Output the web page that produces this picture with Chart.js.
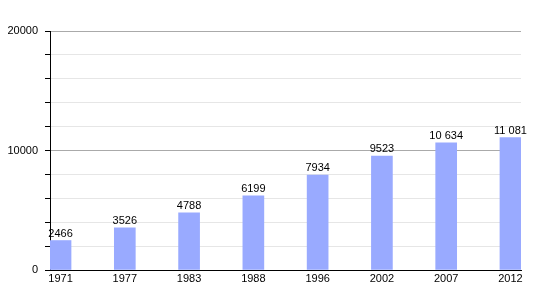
<!DOCTYPE html>
<html><head><meta charset="utf-8">
<script src="https://cdn.jsdelivr.net/npm/chart.js@4/dist/chart.umd.min.js"></script>
<style>html,body{margin:0;padding:0;background:#fff}#wrap{width:550px;height:300px;position:relative}</style>
</head><body><div id="wrap"><canvas id="c" width="550" height="300"></canvas></div>
<script>
const years = ["1971","1977","1983","1988","1996","2002","2007","2012"];
const population = [2466, 3526, 4788, 6199, 7934, 9523, 10634, 11081];
const yTickLabels = [0, 10000, 20000];

function fmt(n){ return n >= 10000 ? String(n).replace(/\B(?=(\d{3})+(?!\d))/g, ' ') : String(n); }

const valueLabels = {
  id: 'valueLabels',
  afterDatasetsDraw(chart){
    const ctx = chart.ctx;
    const meta = chart.getDatasetMeta(0);
    ctx.save();
    ctx.font = '11px "Liberation Sans", Arial, sans-serif';
    ctx.fillStyle = '#000';
    ctx.textAlign = 'center';
    ctx.textBaseline = 'alphabetic';
    meta.data.forEach((bar, i) => {
      ctx.fillText(fmt(population[i]), bar.x, bar.y - 4);
    });
    ctx.restore();
  }
};

new Chart(document.getElementById('c'), {
  type: 'bar',
  data: {
    datasets: [{
      data: population.map((v, i) => ({x: i, y: v})),
      backgroundColor: 'rgb(153,170,255)',
      borderWidth: 0,
      barThickness: 21
    }]
  },
  options: {
    responsive: false,
    animation: false,
    events: [],
    layout: { padding: { top: 31, right: 29, left: 0, bottom: 0 } },
    plugins: { legend: { display: false }, tooltip: { enabled: false } },
    scales: {
      x: {
        type: 'linear',
        offset: false,
        min: -0.164, max: 7.164,
        afterFit(s){ s.height = 30; },
        afterBuildTicks(s){ s.ticks = years.map((_, i) => ({value: i})); },
        ticks: {
          callback: (v) => years[v] !== undefined ? years[v] : '',
          color: '#000', font: { size: 11, family: '"Liberation Sans", Arial, sans-serif' },
          padding: 2, maxRotation: 0, autoSkip: false
        },
        grid: { drawOnChartArea: false, drawTicks: false, offset: false },
        border: { color: '#000', width: 1 }
      },
      y: {
        min: 0, max: 20000,
        afterFit(s){ s.width = 50; },
        ticks: {
          stepSize: 2000,
          callback: (v) => yTickLabels.includes(v) ? String(v) : '',
          color: '#000', font: { size: 11, family: '"Liberation Sans", Arial, sans-serif' },
          padding: 7, autoSkip: false
        },
        grid: {
          color: (c) => (c.tick && c.tick.value % 10000 === 0) ? '#aaaaaa' : '#e6e6e6',
          tickColor: '#000', tickLength: 5
        },
        border: { color: '#000', width: 1 }
      }
    }
  },
  plugins: [valueLabels]
});
</script></body></html>
